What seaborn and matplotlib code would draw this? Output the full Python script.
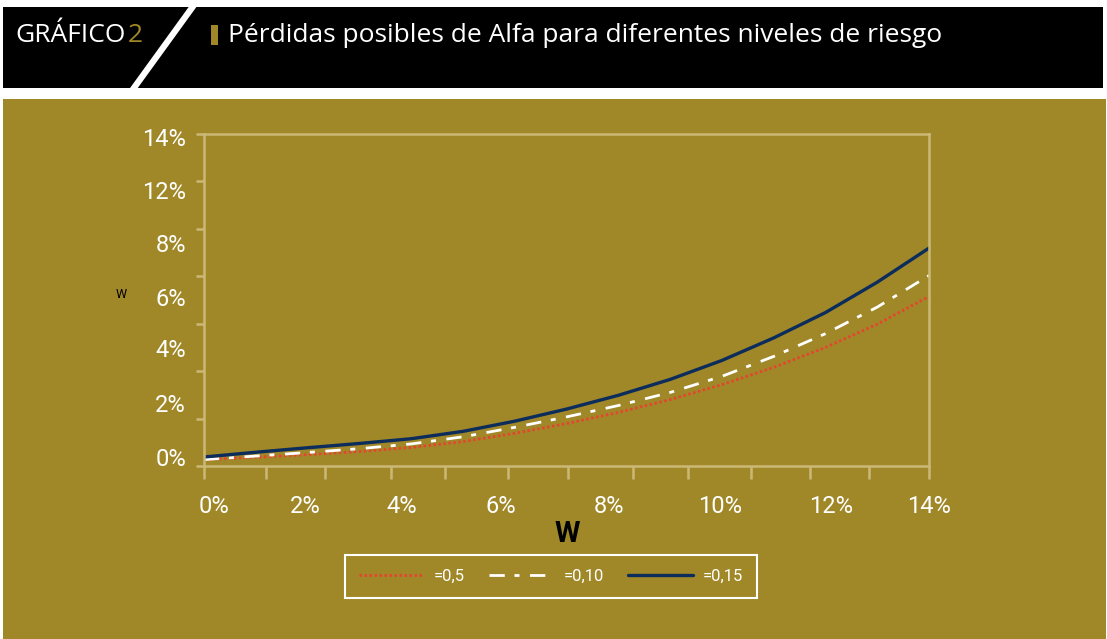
import matplotlib
matplotlib.use("Agg")
import matplotlib.pyplot as plt
import seaborn as sns
from matplotlib.patches import Rectangle
from matplotlib.lines import Line2D
from matplotlib.font_manager import FontProperties

# W (%) and possible losses (%) for each risk level
w = [0, 1, 2, 3, 4, 5, 6, 7, 8, 9, 10, 11, 12, 13, 14]
loss_05 = [0.27, 0.37, 0.48, 0.61, 0.78, 1.03, 1.38, 1.79, 2.26, 2.80, 3.43, 4.16, 5.00, 5.98, 7.15]
loss_010 = [0.27, 0.42, 0.57, 0.73, 0.93, 1.23, 1.63, 2.07, 2.55, 3.10, 3.78, 4.62, 5.58, 6.70, 8.03]
loss_015 = [0.38, 0.58, 0.77, 0.95, 1.15, 1.46, 1.89, 2.40, 2.98, 3.65, 4.45, 5.40, 6.47, 7.75, 9.19]
series_labels = ['=0,5', '=0,10', '=0,15']

x_labels = ['0%', '2%', '4%', '6%', '8%', '10%', '12%', '14%']
y_labels = ['0%', '2%', '4%', '6%', '8%', '12%', '14%']

# tick / label placement as drawn in the original (not evenly aligned)
x_tick_pos = [0, 1.2, 2.34, 3.61, 4.65, 5.87, 7.03, 8.28, 9.34, 10.56, 11.7, 12.84, 14]
x_label_pos = [0.19, 1.95, 3.82, 5.73, 7.82, 9.96, 12.11, 14.0]
y_tick_pos = [0, 2, 4, 6, 8, 10, 12, 14]
y_label_pos = [0.38, 2.66, 4.98, 7.13, 9.40, 11.64, 13.87]

GOLD = '#A08828'
FRAME = '#CBB877'
W_PX, H_PX = 1107, 639

sns.set_style("ticks")
plt.rcParams['font.family'] = ['Roboto', 'DejaVu Sans']

head = FontProperties(family=['Open Sans', 'DejaVu Sans'], size=19)


def fx(px):
    return px / W_PX


def fy(py):
    return 1 - py / H_PX


fig = plt.figure(figsize=(11.07, 6.39), dpi=100)
fig.patch.set_facecolor('white')

# header band and gold panel
fig.add_artist(Rectangle((fx(3), fy(88)), fx(1100), 81 / H_PX, transform=fig.transFigure,
                         facecolor='black', edgecolor='none', zorder=-3))
fig.add_artist(Rectangle((fx(3), 0), fx(1103), 540 / H_PX, transform=fig.transFigure,
                         facecolor=GOLD, edgecolor='none', zorder=-3))
fig.add_artist(Line2D([fx(197.6), fx(131)], [fy(0), fy(92)], transform=fig.transFigure,
                      color='white', linewidth=4.5, zorder=-2))
fig.add_artist(Rectangle((fx(211), fy(45)), fx(7), 20 / H_PX, transform=fig.transFigure,
                         facecolor=GOLD, edgecolor='none'))

fig.text(fx(15), fy(36), 'GRÁFICO', color='white', fontproperties=head, va='center', ha='left')
fig.text(fx(128), fy(36), '2', color=GOLD, fontproperties=head, va='center', ha='left')
fig.text(fx(228), fy(35), 'Pérdidas posibles de Alfa para diferentes niveles de riesgo',
         color='white', fontproperties=head, va='center', ha='left')

ax = fig.add_axes([fx(204), fy(466), 725 / W_PX, 332 / H_PX])
ax.set_facecolor(GOLD)

sns.lineplot(x=w, y=loss_05, ax=ax, color='#E5452F', linewidth=2.0,
             linestyle=(0, (0.9, 0.9)), label=series_labels[0])
sns.lineplot(x=w, y=loss_010, ax=ax, color='white', linewidth=2.0,
             linestyle=(0, (5.5, 3.5, 1.8, 3.8)), label=series_labels[1])
sns.lineplot(x=w, y=loss_015, ax=ax, color='#0C2C5C', linewidth=2.4,
             linestyle='-', label=series_labels[2])

ax.set_xlim(0, 14)
ax.set_ylim(0, 14)

for s in ax.spines.values():
    s.set_color(FRAME)
    s.set_linewidth(1.8)

ax.xaxis.remove_overlapping_locs = False
ax.yaxis.remove_overlapping_locs = False
ax.set_xticks(x_tick_pos)
ax.set_xticks(x_label_pos, labels=x_labels, minor=True)
ax.set_yticks(y_tick_pos)
ax.set_yticks(y_label_pos, labels=y_labels, minor=True)
ax.tick_params(which='major', color=FRAME, width=1.8, labelbottom=False, labelleft=False)
ax.tick_params(axis='x', which='major', length=9)
ax.tick_params(axis='y', which='major', length=6)
ax.tick_params(which='minor', length=0, labelcolor='white', labelsize=17)
ax.tick_params(axis='x', which='minor', pad=21)
ax.tick_params(axis='y', which='minor', pad=13)

ax.set_xlabel('')
ax.set_ylabel('')
fig.text(fx(567), fy(534), 'W', color='black', fontsize=21, fontweight='bold',
         family=['Roboto', 'DejaVu Sans'], ha='center', va='center')
fig.text(fx(121), fy(295), 'W', color='black', fontsize=9, ha='center', va='center')

leg = ax.legend(loc='lower left', bbox_to_anchor=(fx(345), fy(598), 412 / W_PX, 43 / H_PX),
                bbox_transform=fig.transFigure, mode='expand', ncol=3, frameon=True,
                fancybox=False, edgecolor='white', facecolor=GOLD, framealpha=1,
                handlelength=3.9, handletextpad=0.6, borderpad=0.85, borderaxespad=0,
                prop=FontProperties(family=['Roboto', 'DejaVu Sans'], size=12),
                labelcolor='white')
leg.get_frame().set_linewidth(1.5)

fig.savefig('out.png', dpi=100, facecolor=fig.get_facecolor())
